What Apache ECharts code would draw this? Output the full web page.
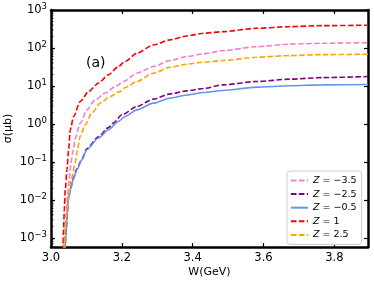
<!DOCTYPE html>
<html><head><meta charset="utf-8">
<script src="https://cdn.jsdelivr.net/npm/echarts@6/dist/echarts.min.js"></script>
<style>html,body{margin:0;padding:0;background:#fff}#c{width:374px;height:281px}</style>
</head><body><div id="c"></div>
<script>
// ---- data ----
const zValues = ['−3.5', '−2.5', '−0.5', '1', '2.5'];
const colors = ['#fb7bc8', '#800080', '#6495ed', '#ff0000', '#ffa500'];
const lineTypes = ['dashed', 'dashed', 'solid', 'dashed', 'dashed'];

const wPink = [3.0352, 3.0383, 3.0423, 3.0468, 3.0515, 3.0558, 3.0630, 3.0685, 3.0825, 3.1014, 3.1248, 3.153, 3.181, 3.205, 3.2423, 3.289, 3.336, 3.383, 3.43, 3.486, 3.580, 3.674, 3.767, 3.895];
const sPink = [0.0005, 0.0011, 0.0037, 0.0124, 0.034, 0.0935, 0.21, 0.425, 1.05, 2.35, 4.3, 6.5, 9.6, 13.1, 21.7, 32.4, 46.5, 59.3, 69.8, 85.2, 108, 126, 133, 138];

const wPurple = [3.0395, 3.0425, 3.0455, 3.049, 3.055, 3.0625, 3.0732, 3.0873, 3.1014, 3.134, 3.162, 3.176, 3.2, 3.2423, 3.289, 3.336, 3.383, 3.43, 3.486, 3.580, 3.674, 3.767, 3.895];
const sPurple = [0.00046, 0.00135, 0.0038, 0.0106, 0.0195, 0.036, 0.066, 0.12, 0.225, 0.46, 0.80, 1.05, 1.74, 2.88, 4.5, 6.2, 7.4, 8.55, 10.7, 13.1, 15.1, 16.6, 17.7];

const wBlue = [3.0395, 3.0425, 3.0455, 3.049, 3.055, 3.0625, 3.0732, 3.0873, 3.1014, 3.134, 3.162, 3.190, 3.209, 3.2423, 3.289, 3.336, 3.383, 3.43, 3.486, 3.580, 3.674, 3.767, 3.895];
const sBlue = [0.00045, 0.0013, 0.0037, 0.0102, 0.0186, 0.034, 0.0624, 0.114, 0.21, 0.425, 0.70, 1.16, 1.57, 2.35, 3.53, 4.78, 5.8, 6.7, 7.6, 9.3, 10.1, 10.7, 10.9];

const wRed = [3.0335, 3.0355, 3.0375, 3.0403, 3.0451, 3.0496, 3.0544, 3.0637, 3.0825, 3.1059, 3.134, 3.162, 3.190, 3.209, 3.2423, 3.289, 3.336, 3.383, 3.43, 3.486, 3.580, 3.674, 3.767, 3.895];
const sRed = [0.00045, 0.00165, 0.00554, 0.0186, 0.0624, 0.21, 0.70, 1.57, 3.89, 7.1, 11.9, 19.6, 32.4, 43.8, 72.8, 120, 163, 207, 244, 269, 330, 364, 387, 397];

const wOrange = [3.0372, 3.0403, 3.0451, 3.0496, 3.0572, 3.0685, 3.0745, 3.0825, 3.0966, 3.1155, 3.1389, 3.167, 3.195, 3.209, 3.2423, 3.289, 3.336, 3.383, 3.43, 3.486, 3.580, 3.674, 3.767, 3.895];
const sOrange = [0.0005, 0.0020, 0.00554, 0.0124, 0.034, 0.0935, 0.21, 0.47, 0.95, 1.93, 3.53, 5.3, 7.1, 9.0, 13.1, 21.7, 31.2, 37.4, 42.2, 46.6, 57.1, 63, 66.9, 68.5];

const xMin = 3.0, xMax = 3.895, xInterval = 0.2;
const yMin = 0.000575, yMax = 1000;
const minorMultipliers = [2, 3, 4, 5, 6, 7, 8, 9];
const decades = [-4, -3, -2, -1, 0, 1, 2];

// ---- build ----
const FONT = 'DejaVu Sans';
const wArr = [wPink, wPurple, wBlue, wRed, wOrange];
const sArr = [sPink, sPurple, sBlue, sRed, sOrange];
const names = zValues.map(z => 'Z = ' + z);

const minorData = [];
decades.forEach(d => minorMultipliers.forEach(m => {
  const v = m * Math.pow(10, d);
  if (v > yMin && v < yMax) minorData.push([xMin, v]);
}));

const lineSeries = names.map((n, i) => ({
  name: n, type: 'line', showSymbol: false, symbol: 'none', z: 3 + i,
  smooth: 0.25, smoothMonotone: 'x',
  data: wArr[i].map((w, j) => [w, sArr[i][j]]),
  lineStyle: { color: colors[i], width: 1.6, type: lineTypes[i] === 'dashed' ? [5.5, 2.4] : 'solid' },
  itemStyle: { color: colors[i] },
  clip: true, animation: false
}));

function yLabel(v) {
  const e = Math.round(Math.log10(v));
  const es = String(e).replace('-', '−');
  return '{b|10}{s|' + es + '}';
}

const chart = echarts.init(document.getElementById('c'), null, {renderer: 'canvas'});
chart.setOption({
  animation: false,
  textStyle: { fontFamily: FONT },
  grid: { left: 51, right: 6, top: 10, bottom: 34, outerBoundsMode: 'none', containLabel: false },
  xAxis: [{
    type: 'value', min: xMin, max: xMax, interval: xInterval, position: 'bottom',
    axisLine: { onZero: false, lineStyle: { color: '#000', width: 2.5 } },
    axisTick: { inside: true, length: 4, lineStyle: { color: '#000', width: 1.2 } },
    axisLabel: { color: '#000', fontSize: 11.5, fontFamily: FONT, margin: 5, showMaxLabel: false,
      formatter: v => v.toFixed(1) },
    splitLine: { show: false },
    name: 'W(GeV)', nameLocation: 'middle', nameGap: 20, nameMoveOverlap: false,
    nameTextStyle: { color: '#000', fontSize: 11, fontFamily: FONT }
  }, {
    type: 'value', min: xMin, max: xMax, interval: xInterval, position: 'top',
    axisLine: { onZero: false, lineStyle: { color: '#000', width: 2.5 } },
    axisTick: { inside: true, length: 4, lineStyle: { color: '#000', width: 1.2 } },
    axisLabel: { show: false }, splitLine: { show: false }
  }],
  yAxis: [{
    type: 'log', logBase: 10, min: yMin, max: yMax, position: 'left',
    axisLine: { onZero: false, lineStyle: { color: '#000', width: 2.5 } },
    axisTick: { inside: true, length: 4, lineStyle: { color: '#000', width: 1.2 } },
    axisLabel: { color: '#000', margin: 4, showMinLabel: false, formatter: yLabel,
      rich: {
        b: { fontSize: 11.5, fontFamily: FONT, color: '#000' },
        s: { fontSize: 8.5, fontFamily: FONT, color: '#000', padding: [0, 0, 7, 0] }
      } },
    splitLine: { show: false },
    name: 'σ(μb)', nameLocation: 'middle', nameGap: 37, nameRotate: 90, nameMoveOverlap: false,
    nameTextStyle: { color: '#000', fontSize: 11, fontFamily: FONT }
  }, {
    type: 'log', logBase: 10, min: yMin, max: yMax, position: 'right',
    axisLine: { onZero: false, lineStyle: { color: '#000', width: 2.5 } },
    axisTick: { inside: true, length: 4, lineStyle: { color: '#000', width: 1.2 } },
    axisLabel: { show: false }, splitLine: { show: false }
  }],
  legend: {
    data: names, orient: 'vertical', left: 287, top: 171,
    itemWidth: 17, itemHeight: 8, itemGap: 2.6,
    padding: [4, 5, 4, 3],
    backgroundColor: '#fff', borderColor: '#cccccc', borderWidth: 1, borderRadius: 3,
    itemStyle: { opacity: 0 },
    textStyle: { fontSize: 9.5, lineHeight: 11, color: '#000', fontFamily: FONT,
      rich: { i: { fontStyle: 'italic', fontSize: 9.5, fontFamily: FONT, color: '#000' } } },
    formatter: n => '{i|Z}' + n.slice(1)
  },
  graphic: [{
    type: 'text', left: 86, top: 56,
    style: { text: '(a)', fontSize: 14, fontFamily: FONT, fill: '#000' }
  }],
  series: lineSeries.concat([{
    type: 'custom', silent: true, z: 20, xAxisIndex: 0, yAxisIndex: 0,
    data: minorData, clip: false,
    renderItem: (params, api) => {
      const y = api.coord([api.value(0), api.value(1)])[1];
      const x0 = params.coordSys.x;
      return { type: 'line', shape: { x1: x0, y1: y, x2: x0 + 2.5, y2: y },
        style: { stroke: '#000', lineWidth: 0.8 } };
    }
  }])
});
</script>
</body></html>
